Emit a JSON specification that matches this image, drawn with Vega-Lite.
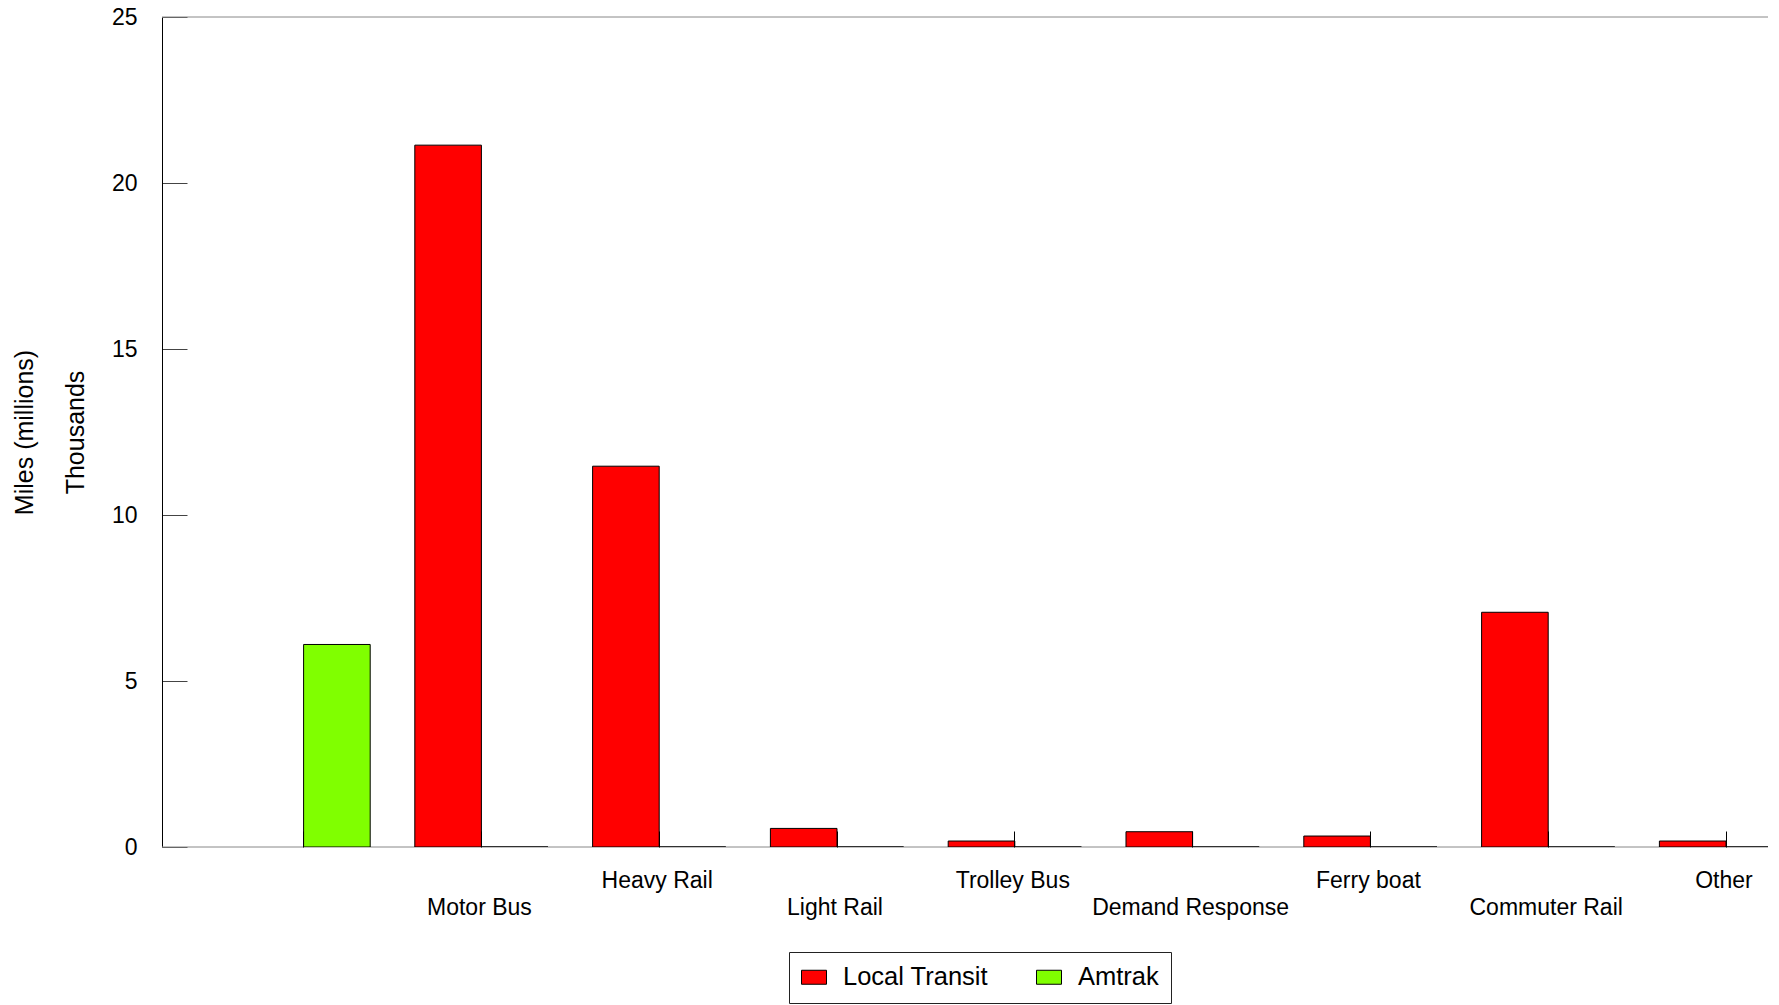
{
  "$schema": "https://vega.github.io/schema/vega-lite/v6.json",
  "width": 1606,
  "height": 830,
  "autosize": {"type": "none"},
  "padding": {"left": 162, "top": 17, "right": 11, "bottom": 158},
  "background": "white",
  "config": {"font": "Liberation Sans", "view": {"stroke": null}},
  "data": {
    "values": [
      {"mode": " ", "series": "Amtrak", "miles": 6.1},
      {"mode": "Motor Bus", "series": "Local Transit", "miles": 21.14},
      {"mode": "Motor Bus", "series": "Amtrak", "miles": 0},
      {"mode": "Heavy Rail", "series": "Local Transit", "miles": 11.47},
      {"mode": "Heavy Rail", "series": "Amtrak", "miles": 0},
      {"mode": "Light Rail", "series": "Local Transit", "miles": 0.56},
      {"mode": "Light Rail", "series": "Amtrak", "miles": 0},
      {"mode": "Trolley Bus", "series": "Local Transit", "miles": 0.18},
      {"mode": "Trolley Bus", "series": "Amtrak", "miles": 0},
      {"mode": "Demand Response", "series": "Local Transit", "miles": 0.46},
      {"mode": "Demand Response", "series": "Amtrak", "miles": 0},
      {"mode": "Ferry boat", "series": "Local Transit", "miles": 0.33},
      {"mode": "Ferry boat", "series": "Amtrak", "miles": 0},
      {"mode": "Commuter Rail", "series": "Local Transit", "miles": 7.07},
      {"mode": "Commuter Rail", "series": "Amtrak", "miles": 0},
      {"mode": "Other", "series": "Local Transit", "miles": 0.18},
      {"mode": "Other", "series": "Amtrak", "miles": 0}
    ]
  },
  "layer": [
    {
      "data": {"values": [{}]},
      "mark": {"type": "rule", "color": "#888888", "strokeWidth": 1},
      "encoding": {"y": {"datum": 25, "type": "quantitative"}}
    },
    {
      "data": {"values": [{}]},
      "mark": {"type": "rule", "color": "#888888", "strokeWidth": 1},
      "encoding": {"y": {"datum": 0, "type": "quantitative"}}
    },
    {
      "mark": {"type": "bar", "stroke": "black", "strokeWidth": 1, "clip": true},
      "encoding": {
        "x": {
          "field": "mode",
          "type": "nominal",
          "sort": null,
          "scale": {"range": [52.7, 1652.9], "paddingInner": 0, "paddingOuter": 0},
          "axis": {
            "title": null,
            "domain": false,
            "ticks": true,
            "tickSize": -16,
            "tickColor": "black",
            "labelAngle": 0,
            "labelFontSize": 23,
            "labelColor": "black",
            "labelBaseline": "middle",
            "labelOffset": -2,
            "labelPadding": {
              "condition": {"test": "indexof(['Motor Bus','Light Rail','Demand Response','Commuter Rail'], datum.value) >= 0", "value": 76},
              "value": 49
            },
            "labelOverlap": false,
            "labelLimit": 0,
            "zindex": 1
          }
        },
        "xOffset": {
          "field": "series",
          "type": "nominal",
          "scale": {"domain": ["Local Transit", "Amtrak"], "paddingInner": 0, "paddingOuter": 0.3348}
        },
        "y": {
          "field": "miles",
          "type": "quantitative",
          "scale": {"domain": [0, 25], "nice": false},
          "axis": {
            "title": ["Miles (millions)", "Thousands"],
            "titleFontSize": 25,
            "titleFontWeight": "normal",
            "titleColor": "black",
            "titleLineHeight": 51,
            "titleX": -130,
            "titleY": 415,
            "titleAngle": -90,
            "titleBaseline": "alphabetic",
            "titleAlign": "center",
            "values": [0, 5, 10, 15, 20, 25],
            "tickSize": -25,
            "tickColor": "#444444",
            "labelPadding": 50,
            "labelFontSize": 23,
            "labelColor": "black",
            "labelFlush": false,
            "labelBaseline": "middle",
            "domainColor": "black",
            "grid": false
          }
        },
        "color": {
          "field": "series",
          "type": "nominal",
          "scale": {"domain": ["Local Transit", "Amtrak"], "range": ["#FF0000", "#80FF00"]},
          "legend": {
            "title": null,
            "orient": "none",
            "legendX": 627,
            "legendY": 935,
            "direction": "horizontal",
            "columns": 2,
            "gridAlign": "all",
            "columnPadding": 45,
            "padding": 12,
            "strokeColor": "#222222",
            "fillColor": "white",
            "labelFontSize": 25.5,
            "labelColor": "black",
            "labelOffset": 16,
            "labelLimit": 0,
            "symbolType": "M-1,-0.56H1V0.56H-1Z",
            "symbolSize": 625,
            "symbolStrokeColor": "black",
            "symbolStrokeWidth": 1,
            "symbolOpacity": 1
          }
        }
      }
    }
  ]
}
